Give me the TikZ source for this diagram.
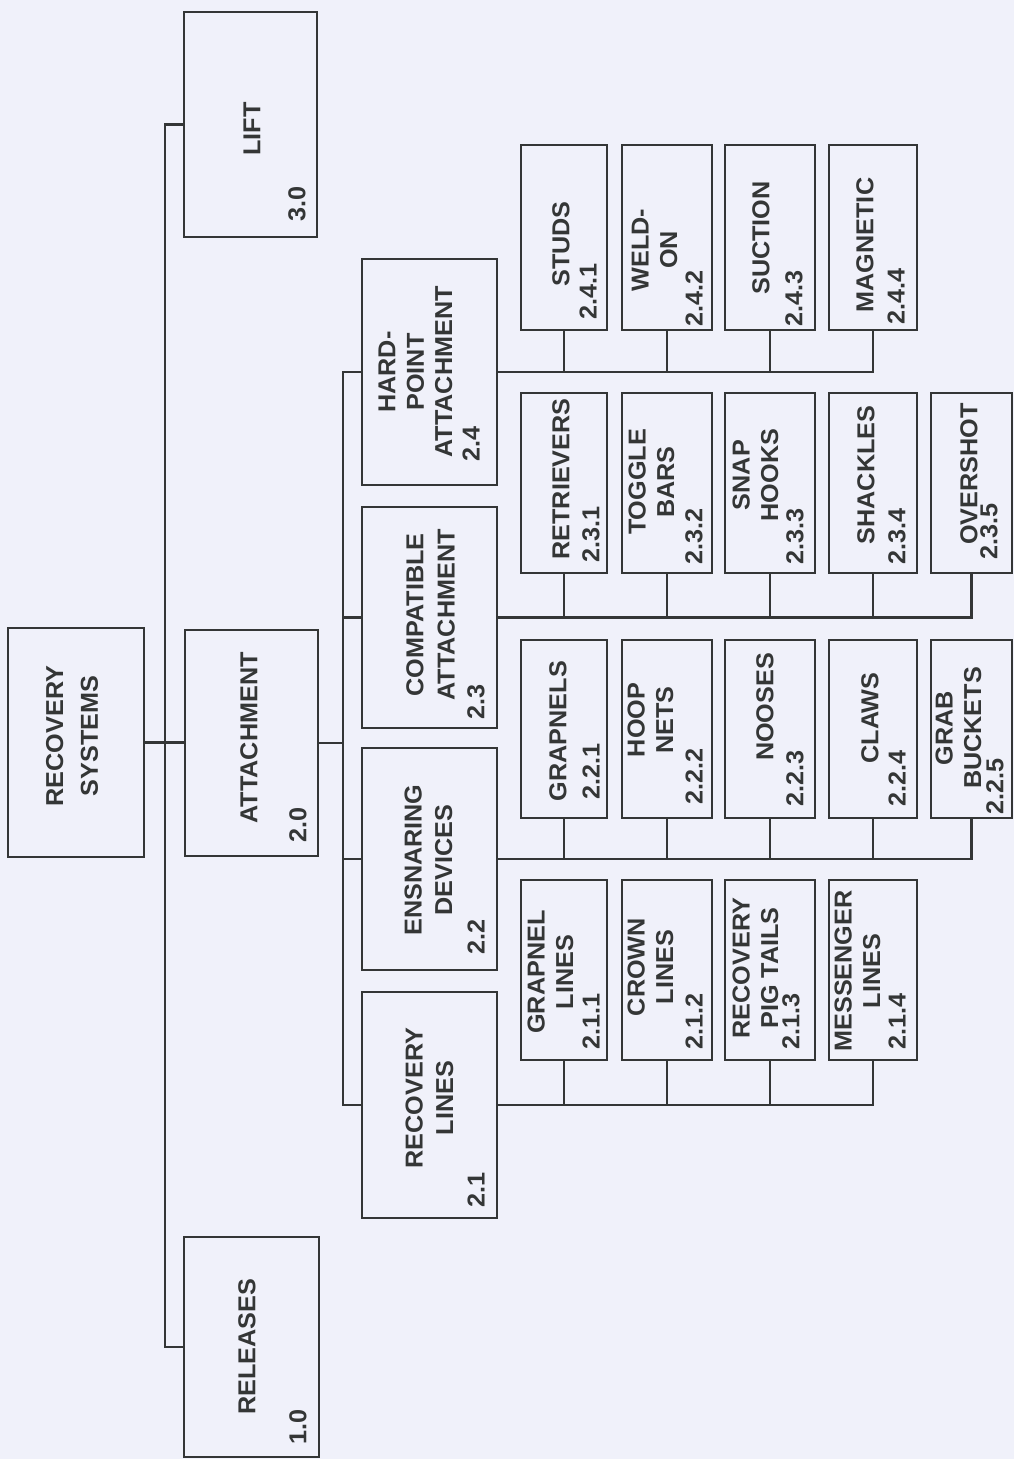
\documentclass[tikz,border=0pt]{standalone}
\usepackage{fontspec}
\setmainfont{Liberation Sans}
\newfontfamily\boxfamily{Liberation Sans}[FakeStretch=1.03]
\usetikzlibrary{fit}
\definecolor{paper}{RGB}{240,241,250}
\definecolor{ink}{RGB}{52,54,54}
\newcommand\lblfont{\boxfamily\bfseries\fontsize{17.4}{20.2}\selectfont}

\begin{document}
\begin{tikzpicture}[x=0.025cm,y=-0.025cm,
  box/.style={draw=ink, line width=2.1pt, inner sep=0pt, fill=paper},
  conn/.style={draw=ink, line width=2pt},
  lbl/.style={rotate=90, inner sep=0pt, align=center, text=ink, font=\lblfont},
  idx/.style={rotate=90, inner sep=0pt, anchor=west, text=ink, font=\lblfont}]
\fill[paper] (0,0) rectangle (1014,1459);
\useasboundingbox (0,0) rectangle (1014,1459);

% ---- top level ----
\node[box, fit={(8,628) (144,857)}]    (rs)   {};
\node[box, fit={(184,12) (317,237)}]   (lift) {};
\node[box, fit={(185,630) (318,856)}]  (att)  {};
\node[box, fit={(184,1237) (319,1457)}] (rel) {};

% ---- attachment branches ----
\node[box, fit={(362,259) (497,485)}]  (hp) {};
\node[box, fit={(362,507) (497,728)}]  (ca) {};
\node[box, fit={(362,748) (497,970)}]  (ed) {};
\node[box, fit={(362,992) (497,1218)}] (rl) {};

% ---- hard-point attachment items ----
\node[box, fit={(521,145) (607,330)}] (b241) {};
\node[box, fit={(622,145) (712,330)}] (b242) {};
\node[box, fit={(725,145) (815,330)}] (b243) {};
\node[box, fit={(829,145) (917,330)}] (b244) {};
% ---- compatible attachment items ----
\node[box, fit={(521,393) (607,573)}]  (b231) {};
\node[box, fit={(622,393) (712,573)}]  (b232) {};
\node[box, fit={(725,393) (815,573)}]  (b233) {};
\node[box, fit={(829,393) (917,573)}]  (b234) {};
\node[box, fit={(931,393) (1012,573)}] (b235) {};
% ---- ensnaring devices items ----
\node[box, fit={(521,640) (607,818)}]  (b221) {};
\node[box, fit={(622,640) (712,818)}]  (b222) {};
\node[box, fit={(725,640) (815,818)}]  (b223) {};
\node[box, fit={(829,640) (917,818)}]  (b224) {};
\node[box, fit={(931,640) (1012,818)}] (b225) {};
% ---- recovery lines items ----
\node[box, fit={(521,880) (607,1060)}] (b211) {};
\node[box, fit={(622,880) (712,1060)}] (b212) {};
\node[box, fit={(725,880) (815,1060)}] (b213) {};
\node[box, fit={(829,880) (917,1060)}] (b214) {};

% ---- connectors ----
\coordinate (bus1) at (165,740);
\coordinate (bus2) at (343,740);
\draw[conn] (lift.west) -| (bus1) |- (rel.west);
\draw[conn] (rs.east) -- (rs.east -| att.west);
\draw[conn] (att.east) -- (att.east -| bus2);
\draw[conn] (hp.west) -| (bus2) |- (rl.west);
\draw[conn] (ca.west) -- (ca.west -| bus2);
\draw[conn] (ed.west) -- (ed.west -| bus2);

\draw[conn] (hp.east) -| (b244.south);
\foreach \n in {b241,b242,b243} \draw[conn] (\n.south) -- (\n.south |- hp.east);
\draw[conn] (ca.east) -| (b235.south);
\foreach \n in {b231,b232,b233,b234} \draw[conn] (\n.south) -- (\n.south |- ca.east);
\draw[conn] (ed.east) -| (b225.south);
\foreach \n in {b221,b222,b223,b224} \draw[conn] (\n.south) -- (\n.south |- ed.east);
\draw[conn] (rl.east) -| (b214.south);
\foreach \n in {b211,b212,b213} \draw[conn] (\n.south) -- (\n.south |- rl.east);

% ---- labels: top level ----
\node[lbl] (rs-t) at (72,736) {RECOVERY\\[4.5pt]SYSTEMS};
\node[lbl] (lift-t) at (252,129) {LIFT};
\node[idx] (lift-n) at (297,222) {3.0};
\node[lbl] (att-t) at (249,738) {ATTACHMENT};
\node[idx] (att-n) at (298,843) {2.0};
\node[lbl] (rel-t) at (247,1347) {RELEASES};
\node[idx] (rel-n) at (298,1445) {1.0};

% ---- labels: attachment branches ----
\node[lbl] (hp-t) at (415.5,372) {HARD-\\POINT\\ATTACHMENT};
\node[idx] (hp-n) at (471,462) {2.4};
\node[lbl] (ca-t) at (430.5,615) {COMPATIBLE\\[2pt]ATTACHMENT};
\node[idx] (ca-n) at (476,720) {2.3};
\node[lbl] (ed-t) at (428.5,860) {ENSNARING\\[1.5pt]DEVICES};
\node[idx] (ed-n) at (476,955) {2.2};
\node[lbl] (rl-t) at (429.5,1098) {RECOVERY\\[1.5pt]LINES};
\node[idx] (rl-n) at (476,1208) {2.1};

% ---- labels: hard-point items ----
\node[lbl] (b241-t) at (561,244) {STUDS};
\node[idx] (b241-n) at (588,320) {2.4.1};
\node[lbl] (b242-t) at (654.5,250) {WELD-\\ON};
\node[idx] (b242-n) at (694,327) {2.4.2};
\node[lbl] (b243-t) at (761,238) {SUCTION};
\node[idx] (b243-n) at (794,327) {2.4.3};
\node[lbl] (b244-t) at (865,245) {MAGNETIC};
\node[idx] (b244-n) at (896,325) {2.4.4};

% ---- labels: compatible attachment items ----
\node[lbl] (b231-t) at (561,479) {RETRIEVERS};
\node[idx] (b231-n) at (591,563) {2.3.1};
\node[lbl] (b232-t) at (651.5,482) {TOGGLE\\BARS};
\node[idx] (b232-n) at (694,565) {2.3.2};
\node[lbl] (b233-t) at (755.5,475) {SNAP\\HOOKS};
\node[idx] (b233-n) at (795,565) {2.3.3};
\node[lbl] (b234-t) at (866,475) {SHACKLES};
\node[idx] (b234-n) at (897,565) {2.3.4};
\node[lbl] (b235-t) at (969,474) {OVERSHOT};
\node[idx] (b235-n) at (989,560) {2.3.5};

% ---- labels: ensnaring devices items ----
\node[lbl] (b221-t) at (558,731) {GRAPNELS};
\node[idx] (b221-n) at (591,800) {2.2.1};
\node[lbl] (b222-t) at (650.5,720) {HOOP\\NETS};
\node[idx] (b222-n) at (694,805) {2.2.2};
\node[lbl] (b223-t) at (765,707) {NOOSES};
\node[idx] (b223-n) at (795,807) {2.2.3};
\node[lbl] (b224-t) at (870,718) {CLAWS};
\node[idx] (b224-n) at (897,807) {2.2.4};
\node[lbl] (b225-t) at (958.5,728) {GRAB\\BUCKETS};
\node[idx] (b225-n) at (995,815) {2.2.5};

% ---- labels: recovery lines items ----
\node[lbl] (b211-t) at (550.5,972) {GRAPNEL\\LINES};
\node[idx] (b211-n) at (591,1050) {2.1.1};
\node[lbl] (b212-t) at (650.5,967) {CROWN\\LINES};
\node[idx] (b212-n) at (694,1050) {2.1.2};
\node[lbl] (b213-t) at (755.5,968) {RECOVERY\\PIG TAILS};
\node[idx] (b213-n) at (791,1050) {2.1.3};
\node[lbl] (b214-t) at (857.5,971) {MESSENGER\\LINES};
\node[idx] (b214-n) at (897,1050) {2.1.4};
\end{tikzpicture}
\end{document}
